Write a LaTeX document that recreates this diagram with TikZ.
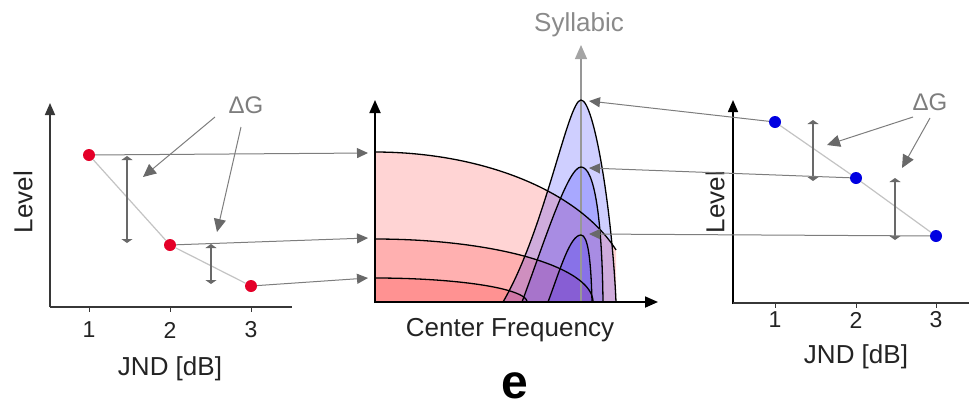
\documentclass[tikz,border=0pt]{standalone}
\usepackage{fontspec}
\setmainfont{Liberation Sans}
\usetikzlibrary{arrows.meta}
\definecolor{conngray}{RGB}{125,125,125}
\definecolor{headgray}{RGB}{105,105,105}
\definecolor{axgray}{RGB}{55,55,55}
\definecolor{dotline}{RGB}{195,195,195}
\definecolor{lblgray}{RGB}{125,125,125}
\definecolor{txtdark}{RGB}{35,35,35}
\definecolor{reddot}{RGB}{228,0,40}
\definecolor{bluedot}{RGB}{0,0,225}
\tikzset{
  conn/.style={draw=conngray, line width=1pt, -{Triangle[length=11pt,width=10pt,fill=headgray,color=headgray]}},
  dgarrow/.style={draw=conngray, line width=1pt, -{Triangle[length=13pt,width=12pt,fill=headgray,color=headgray]}},
  gapbar/.style={draw=headgray, line width=1.2pt, {Triangle[length=4pt,width=11pt,color=headgray]}-{Triangle[length=4pt,width=11pt,color=headgray]}},
  axisl/.style={draw=axgray, line width=1.6pt},
  axisarrow/.style={axisl, -{Triangle[length=12pt,width=10pt]}},
  axism/.style={draw=black, line width=1.8pt, -{Triangle[length=13pt,width=11pt]}},
  rdot/.style={circle, fill=reddot, minimum size=12pt, inner sep=0pt},
  bdot/.style={circle, fill=bluedot, minimum size=12pt, inner sep=0pt},
  dotlink/.style={draw=dotline, line width=1.2pt},
  lbl/.style={text=txtdark, font=\fontsize{26}{30}\selectfont, inner sep=0pt},
  ticklbl/.style={text=txtdark, font=\fontsize{23}{27}\selectfont, inner sep=0pt},
  dglbl/.style={text=lblgray, font=\fontsize{24}{28}\selectfont, inner sep=0pt},
  pinkfill/.style={fill=red, fill opacity=0.17, draw=none},
  bluefill/.style={fill=blue, fill opacity=0.19, draw=none},
  curve/.style={draw=black, line width=1.3pt},
}
\begin{document}
\begin{tikzpicture}[x=1pt, y=-1pt]
\useasboundingbox (0,0) rectangle (969,408);

% ---------------- left chart ----------------
\draw[axisarrow] (50,307) -- (50,103);
\draw[axisl] (50,307) -- (292,307);
\foreach \xx in {89,170,251} \draw[axisl, line width=1pt] (\xx,307) -- (\xx,312);
\node[ticklbl] at (89,330) {1};
\node[ticklbl] at (170,330) {2};
\node[ticklbl] at (251,330) {3};
\node[lbl] at (170,369) {JND [dB]};
\node[lbl, rotate=90] at (23,202) {Level};

\node[rdot] (l1) at (89,155) {};
\node[rdot] (l2) at (170,245) {};
\node[rdot] (l3) at (251,286) {};
\draw[dotlink] (l1) -- (l2) -- (l3);

\draw[gapbar] (127,156) -- (127,243);
\draw[gapbar] (211,244) -- (211,284);

\node[dglbl] (dgl) at (246,105) {ΔG};
\coordinate (dgla) at (215,117);
\coordinate (dglb) at (241,127);
\coordinate (dglat) at (143,177);
\coordinate (dglbt) at (217,232);
\draw[dgarrow] (dgla) -- (dglat);
\draw[dgarrow] (dglb) -- (dglbt);

% ---------------- middle chart ----------------
% pink regions
\fill[pinkfill] (375,302) -- plot[domain=90:20.3, samples=50] ({375+257*cos(\x)}, {302-150*sin(\x)}) -- (616,302) -- cycle;
\fill[pinkfill] (375,302) -- plot[domain=90:0, samples=50] ({375+218*cos(\x)}, {302-63*sin(\x)}) -- cycle;
\fill[pinkfill] (375,302) -- plot[domain=90:0, samples=50] ({375+152*cos(\x)}, {302-24*sin(\x)}) -- cycle;
% blue peaks
\fill[bluefill] (503,302) .. controls (545,230) and (568,100) .. (581,100) .. controls (594,100) and (612,210) .. (616,302) -- cycle;
\fill[bluefill] (522,302) .. controls (545,240) and (568,167) .. (581,167) .. controls (594,167) and (602,215) .. (603,302) -- cycle;
\fill[bluefill] (548,302) .. controls (560,270) and (570,235) .. (581,235) .. controls (588,235) and (591,260) .. (592,302) -- cycle;

% syllabic axis
\coordinate (sylb) at (581,302);
\coordinate (sylt) at (581,45);
\draw[draw=conngray!80, line width=1.2pt, -{Triangle[length=14pt,width=12pt,color=conngray!70]}] (sylb) -- (sylt);
\node[dglbl, font=\fontsize{26}{30}\selectfont, text=conngray!90] (syl) at (579,25) {Syllabic};

% outlines
\draw[curve] plot[domain=90:20.3, samples=50] ({375+257*cos(\x)}, {302-150*sin(\x)});
\draw[curve] plot[domain=90:0, samples=50] ({375+218*cos(\x)}, {302-63*sin(\x)});
\draw[curve] plot[domain=90:0, samples=50] ({375+152*cos(\x)}, {302-24*sin(\x)});
\draw[curve] (503,302) .. controls (545,230) and (568,100) .. (581,100) .. controls (594,100) and (612,210) .. (616,302);
\draw[curve] (522,302) .. controls (545,240) and (568,167) .. (581,167) .. controls (594,167) and (602,215) .. (603,302);
\draw[curve] (548,302) .. controls (560,270) and (570,235) .. (581,235) .. controls (588,235) and (591,260) .. (592,302);

% axes
\draw[axism] (375,303) -- (375,100);
\draw[axism] (374,302) -- (658,302);
\node[lbl] at (510,330) {Center Frequency};

% ---------------- right chart ----------------
\draw[axisarrow, draw=black] (733,304) -- (733,100);
\draw[axisl] (733,303) -- (969,303);
\foreach \xx in {775,856,936} \draw[axisl, line width=1pt] (\xx,303) -- (\xx,308);
\node[ticklbl] at (775,320) {1};
\node[ticklbl] at (856,320) {2};
\node[ticklbl] at (936,320) {3};
\node[lbl] at (856,357) {JND [dB]};
\node[lbl, rotate=90] at (715,202) {Level};

\node[bdot] (r1) at (775,122) {};
\node[bdot] (r2) at (856,178) {};
\node[bdot] (r3) at (936,236) {};
\draw[dotlink] (r1) -- (r2) -- (r3);

\draw[gapbar] (813,120) -- (813,181);
\draw[gapbar] (895,178) -- (895,240);

\node[dglbl] (dgr) at (930,102) {ΔG};
\coordinate (dgra) at (913,117);
\coordinate (dgrb) at (930,118);
\coordinate (dgrat) at (827,145);
\coordinate (dgrbt) at (902,168);
\draw[dgarrow] (dgra) -- (dgrat);
\draw[dgarrow] (dgrb) -- (dgrbt);

% ---------------- connectors ----------------
\coordinate (m1) at (368,153);
\coordinate (m2) at (368,238);
\coordinate (m3) at (368,278);
\draw[conn] (l1) -- (m1);
\draw[conn] (l2) -- (m2);
\draw[conn] (l3) -- (m3);
\coordinate (p1) at (589,101);
\coordinate (p2) at (589,168);
\coordinate (p3) at (589,234);
\draw[conn] (r1) -- (p1);
\draw[conn] (r2) -- (p2);
\draw[conn] (r3) -- (p3);

% panel letter
\node[text=black, font=\bfseries\fontsize{48}{52}\selectfont, inner sep=0pt] (panel) at (515,386) {e};
\end{tikzpicture}
\end{document}
